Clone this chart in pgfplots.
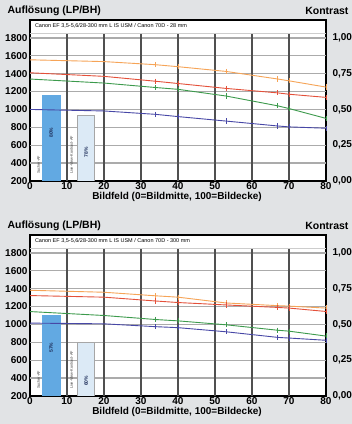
\documentclass[border=0pt]{standalone}
\usepackage{fontspec}
\setmainfont{Liberation Sans}
\usepackage{pgfplots}
\pgfplotsset{compat=1.18}
\definecolor{bg}{HTML}{E1E3E5}
\definecolor{cor}{HTML}{F6A457}
\definecolor{cred}{HTML}{E4503A}
\definecolor{cgrn}{HTML}{3C9A4C}
\definecolor{cblu}{HTML}{4747A6}
\definecolor{bdark}{HTML}{62A9E2}
\definecolor{blight}{HTML}{DCEAF6}
\definecolor{hgrid}{HTML}{ABABAB}
\definecolor{vgrid}{HTML}{505050}
\definecolor{navy}{HTML}{1E2E5A}
\pgfplotsset{
 panel/.style={
  scale only axis, width=296pt, height=161pt, anchor=south west,
  xmin=0,xmax=80,ymin=200,ymax=2000,
  xtick={0,10,...,80}, ytick={200,400,...,1800},
  axis line style={line width=1.2pt, black},
  tick style={draw=none},
  /pgf/number format/1000 sep={},
  /pgf/number format/assume math mode=true,
  tick label style={font=\bfseries\fontsize{10}{10}\selectfont},
  xticklabel style={yshift=2pt},
  yticklabel style={xshift=1pt},
  axis background/.style={fill=white},
 },
 rpanel/.style={
  scale only axis, width=296pt, height=161pt, anchor=south west,
  xmin=0,xmax=80,ymin=0,ymax=1.125,
  axis x line=none, axis y line*=right,
  y axis line style={draw=none}, tick style={draw=none},
  ytick={0,0.25,0.5,0.75,1},
  yticklabels={{0,00},{0,25},{0,50},{0,75},{1,00}},
  /pgf/number format/assume math mode=true,
  yticklabel style={font=\bfseries\fontsize{10}{10}\selectfont, xshift=3pt},
 },
 cur/.style={#1, line width=0.9pt, mark=|, mark size=2.6pt, mark indices={3,4,5,6,7,8}, mark options={line width=0.8pt}},
}
\newcommand{\grid}{%
  \pgfplotsinvokeforeach{400,600,800,1000,1200,1400,1600,1800}{\draw[hgrid, line width=1.4pt] (0,##1) -- (80,##1);}
  \pgfplotsinvokeforeach{10,20,30,40,50,60,70}{\draw[vgrid, line width=1.1pt] (##1,200) -- (##1,1856);}
  \draw[hgrid!60, line width=0.5pt] (0,1856) -- (80,1856);
}
\begin{document}
\begin{tikzpicture}
\fill[bg] (0,0) rectangle (352pt,424pt);
\useasboundingbox (0,0) rectangle (352pt,424pt);
% ---------- panel 1 ----------
\begin{axis}[panel, at={(30pt,243pt)}]
\grid
\node[anchor=west, font=\fontsize{5.5}{5.5}\selectfont] at (0.4,1930) {Canon EF 3,5-5,6/28-300 mm L IS USM / Canon 70D - 28 mm};
\addplot[fill=bdark, draw=none] coordinates {(3.2,200) (3.2,1163) (8.3,1163) (8.3,200)} -- cycle;
\addplot[fill=blight, draw=gray!70, line width=0.5pt] coordinates {(12.8,200) (12.8,930) (17.5,930) (17.5,200)} -- cycle;
\node[rotate=90, text=navy, font=\bfseries\fontsize{5}{5}\selectfont] at (5.75,740) {80\%};
\node[rotate=90, text=navy, font=\bfseries\fontsize{5}{5}\selectfont] at (15.15,520) {78\%};
\node[rotate=90, anchor=west, text=black!75, font=\fontsize{3.8}{4}\selectfont] at (2.3,240) {Sucher-AF};
\node[rotate=90, anchor=west, text=black!75, font=\fontsize{3.8}{4}\selectfont] at (11.2,240) {Live-View-Kontrast-AF};
\addplot[cur=cor] coordinates {(0,1555)(20,1535)(34,1500)(40,1478)(53,1425)(67,1340)(70,1320)(80,1250)};
\addplot[cur=cred] coordinates {(0,1410)(20,1370)(34,1315)(40,1290)(53,1235)(67,1185)(70,1170)(80,1135)};
\addplot[cur=cgrn] coordinates {(0,1340)(20,1295)(34,1245)(40,1225)(53,1150)(67,1040)(70,1010)(80,900)};
\addplot[cur=cblu] coordinates {(0,1000)(20,983)(34,945)(40,920)(53,870)(67,815)(70,805)(80,790)};
\end{axis}
\begin{axis}[rpanel, at={(30pt,243pt)}]
\end{axis}
\node[anchor=west, font=\bfseries\fontsize{10.5}{11}\selectfont] at (4pt,413pt) {Auflösung (LP/BH)};
\node[anchor=east, font=\bfseries\fontsize{10.5}{11}\selectfont] at (352pt,413pt) {Kontrast};
\node[font=\bfseries\fontsize{10}{11}\selectfont] at (177pt,227pt) {Bildfeld (0=Bildmitte, 100=Bildecke)};
% ---------- panel 2 ----------
\begin{axis}[panel, at={(30pt,28pt)}]
\grid
\node[anchor=west, font=\fontsize{5.5}{5.5}\selectfont] at (0.4,1930) {Canon EF 3,5-5,6/28-300 mm L IS USM / Canon 70D - 300 mm};
\addplot[fill=bdark, draw=none] coordinates {(3.2,200) (3.2,1108) (8.3,1108) (8.3,200)} -- cycle;
\addplot[fill=blight, draw=gray!70, line width=0.5pt] coordinates {(12.8,200) (12.8,800) (17.5,800) (17.5,200)} -- cycle;
\node[rotate=90, text=navy, font=\bfseries\fontsize{5}{5}\selectfont] at (5.75,740) {57\%};
\node[rotate=90, text=navy, font=\bfseries\fontsize{5}{5}\selectfont] at (15.15,370) {60\%};
\node[rotate=90, anchor=west, text=black!75, font=\fontsize{3.8}{4}\selectfont] at (2.3,240) {Sucher-AF};
\node[rotate=90, anchor=west, text=black!75, font=\fontsize{3.8}{4}\selectfont] at (11.2,240) {Live-View-Kontrast-AF};
\addplot[cur=cor] coordinates {(0,1382)(20,1360)(34,1320)(40,1305)(53,1240)(67,1210)(70,1205)(80,1183)};
\addplot[cur=cred] coordinates {(0,1323)(20,1305)(34,1262)(40,1245)(53,1218)(67,1190)(70,1183)(80,1145)};
\addplot[cur=cgrn] coordinates {(0,1144)(20,1100)(34,1055)(40,1040)(53,996)(67,935)(70,925)(80,870)};
\addplot[cur=cblu] coordinates {(0,1015)(20,1007)(34,975)(40,964)(53,918)(67,855)(70,848)(80,823)};
\end{axis}
\begin{axis}[rpanel, at={(30pt,28pt)}]
\end{axis}
\node[anchor=west, font=\bfseries\fontsize{10.5}{11}\selectfont] at (4pt,198pt) {Auflösung (LP/BH)};
\node[anchor=east, font=\bfseries\fontsize{10.5}{11}\selectfont] at (352pt,198pt) {Kontrast};
\node[font=\bfseries\fontsize{10}{11}\selectfont] at (177pt,12pt) {Bildfeld (0=Bildmitte, 100=Bildecke)};
\end{tikzpicture}
\end{document}
